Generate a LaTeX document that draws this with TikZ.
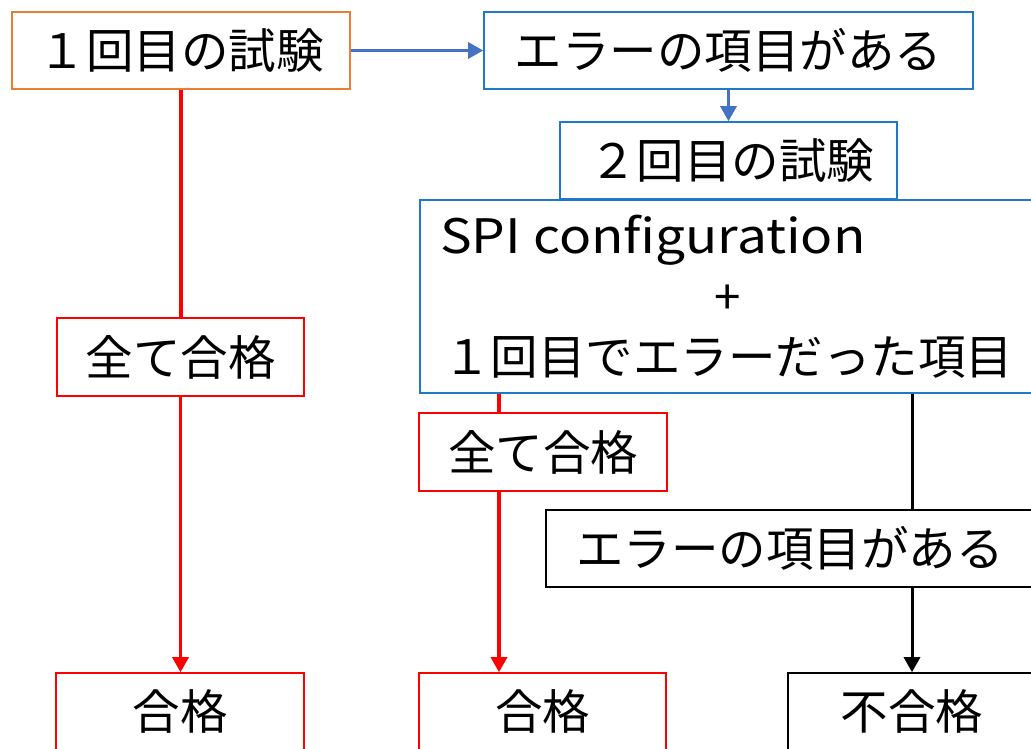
\documentclass[tikz,border=0pt]{standalone}
\usepackage{fontspec}
\setmainfont{Noto Sans CJK JP}
\newfontfamily\widelatin[FakeStretch=1.12]{Noto Sans CJK JP}
\usetikzlibrary{arrows.meta}
\definecolor{boxorange}{HTML}{ED7D31}
\definecolor{boxblue}{HTML}{1F78C8}
\definecolor{arrowblue}{HTML}{4472C4}
\definecolor{pred}{HTML}{FF0000}
\begin{document}
\begin{tikzpicture}[x=1pt,y=-1pt,
  font=\fontsize{47.5}{52}\selectfont,
  box/.style={draw=#1, line width=1.6pt, rectangle, inner sep=0pt, fill=white},
  blueline/.style={draw=arrowblue, line width=3pt},
  redline/.style={draw=pred, line width=3.3pt},
  blackline/.style={draw=black, line width=3pt},
  tip/.style={-{Triangle[length=15pt,width=16pt]}},
  lbl/.style={inner sep=0pt}]
\useasboundingbox (0,0) rectangle (1031,748);
\clip (0,0) rectangle (1031,748);
\node[box=boxorange, minimum width=338pt, minimum height=77pt] (a) at (181,50.5) {１回目の試験};
\node[box=boxblue, minimum width=489pt, minimum height=77pt] (b) at (728.5,50.5) {エラーの項目がある};
\node[box=boxblue, minimum width=337pt, minimum height=77pt] (c) at (728.5,160.5) {\hspace*{6pt}２回目の試験};
\node[box=boxblue, minimum width=616pt, minimum height=193pt] (d) at (728,296.5) {};
\node[lbl, anchor=west] (d1) at (440,240) {\widelatin SPI configuration};
\node[lbl] (d2) at (728,300) {+};
\node[lbl] (d3) at (728,357) {１回目でエラーだった項目};
\node[box=pred, minimum width=247pt, minimum height=78pt] (e) at (180.5,357) {全て合格};
\node[box=pred, minimum width=248pt, minimum height=78pt] (f) at (543,452) {全て合格};
\node[box=pred, minimum width=248pt, minimum height=77pt] (g) at (180,711.5) {合格};
\node[box=pred, minimum width=247pt, minimum height=77pt] (h) at (542.5,711.5) {合格};
\node[box=black, minimum width=488pt, minimum height=77pt] (i) at (790,548.5) {エラーの項目がある};
\node[box=black, minimum width=248pt, minimum height=77pt] (j) at (912,711.5) {不合格};
\coordinate (fx) at (499,0);
\coordinate (ix) at (912,0);
\draw[blueline, tip] (a.east) -- (b.west);
\draw[blueline, tip] (b.south) -- (b.south |- c.north);
\draw[redline] (a.south) -- (a.south |- e.north);
\draw[redline, tip] (e.south) -- (e.south |- g.north);
\draw[redline] (d.south -| fx) -- (f.north -| fx);
\draw[redline, tip] (f.south -| fx) -- (h.north -| fx);
\draw[blackline] (d.south -| ix) -- (i.north -| ix);
\draw[blackline, tip] (i.south -| ix) -- (j.north -| ix);
\end{tikzpicture}
\end{document}
